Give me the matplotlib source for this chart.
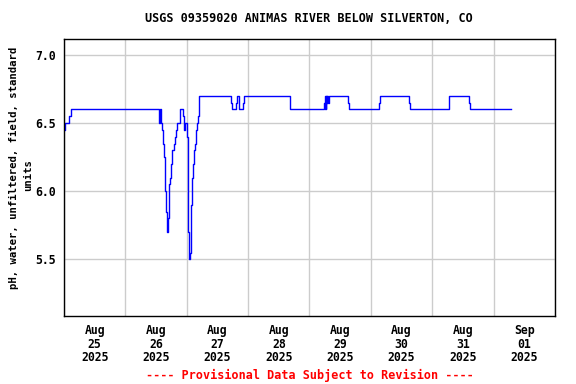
import datetime as dt
import matplotlib
matplotlib.use("Agg")
import matplotlib.pyplot as plt
import matplotlib.dates as mdates

# --- DATA ---
START = dt.datetime(2025, 8, 25, 0, 0)
# hours after START at which the reading changes, and the new reading
HOURS = [0.0, 0.25, 2.1, 2.6,
         37.0, 37.5, 37.8, 38.2, 38.6, 39.0, 39.4, 39.7, 40.1, 40.4, 40.7,
         41.0, 41.6, 41.9, 42.3, 43.1, 43.5, 43.9, 44.4, 45.2, 46.4, 46.8,
         47.3, 48.2, 48.6, 48.9, 49.3, 49.5, 49.9, 50.3, 50.7, 51.1, 51.5,
         51.9, 52.3, 52.7, 52.9,
         65.3, 65.8, 67.4, 67.7, 68.5, 70.0, 70.5,
         88.3,
         101.8, 102.0, 102.2, 102.4, 102.6, 102.8, 103.0, 103.3, 103.5,
         111.0, 111.4,
         123.3, 123.7,
         134.9, 135.3,
         150.6,
         158.5, 158.8,
         174.9]
PH = [6.45, 6.5, 6.55, 6.6,
      6.5, 6.6, 6.5, 6.45, 6.35, 6.25, 6.2, 6.0, 5.85, 5.7, 5.8,
      6.05, 6.1, 6.2, 6.3, 6.35, 6.4, 6.45, 6.5, 6.6, 6.55, 6.45,
      6.5, 6.4, 5.7, 5.5, 5.55, 5.9, 6.1, 6.2, 6.3, 6.35, 6.45,
      6.5, 6.55, 6.65, 6.7,
      6.65, 6.6, 6.65, 6.7, 6.6, 6.65, 6.7,
      6.6,
      6.65, 6.6, 6.7, 6.6, 6.7, 6.65, 6.7, 6.65, 6.7,
      6.65, 6.6,
      6.65, 6.7,
      6.65, 6.6,
      6.7,
      6.65, 6.6,
      6.6]
Y_TICKS = [5.5, 6.0, 6.5, 7.0]

TITLE = "USGS 09359020 ANIMAS RIVER BELOW SILVERTON, CO"
YLABEL_1 = "pH, water, unfiltered, field, standard"
YLABEL_2 = "units"
FOOTER = "---- Provisional Data Subject to Revision ----"

times = [START + dt.timedelta(hours=h) for h in HOURS]

fig = plt.figure(figsize=(5.76, 3.84), dpi=100)
ax = fig.add_axes([0.111, 0.177, 0.8525, 0.7215])

MONO = "DejaVu Sans Mono"
font = dict(family=MONO, weight="bold", size=8.5)

ax.plot(times, PH, color="blue", lw=1.0, drawstyle="steps-post")

ax.set_xlim(START, START + dt.timedelta(days=8))
ax.set_ylim(5.084, 7.117)

# grid lines at midnight, labels centred on noon
ax.xaxis.set_major_locator(mdates.DayLocator())
ax.xaxis.set_major_formatter(plt.NullFormatter())
ax.xaxis.set_minor_locator(mdates.HourLocator(byhour=[12]))
ax.xaxis.set_minor_formatter(mdates.DateFormatter("%b\n%d\n%Y"))
ax.tick_params(axis="x", which="both", length=0, pad=6)
ax.set_yticks(Y_TICKS)
ax.set_yticklabels([f"{v:.1f}" for v in Y_TICKS])
ax.tick_params(axis="y", length=0, pad=6)
for lab in ax.get_xticklabels(minor=True) + ax.get_yticklabels():
    lab.set_fontfamily(MONO)
    lab.set_fontweight("bold")
    lab.set_fontsize(8.3)
    lab.set_linespacing(1.05)

ax.grid(True, which="major", color="#cccccc", lw=1.0)
ax.set_axisbelow(True)
for s in ax.spines.values():
    s.set_linewidth(1.0)
    s.set_color("black")

fig.text(0.537, 0.951, TITLE, ha="center", va="center", **font)
fig.text(0.0235, 0.5625, YLABEL_1, ha="center", va="center", rotation=90,
         family=MONO, weight="bold", size=7.7)
fig.text(0.0485, 0.544, YLABEL_2, ha="center", va="center", rotation=90,
         family=MONO, weight="bold", size=7.7)
fig.text(0.538, 0.023, FOOTER, ha="center", va="center", color="red", **font)

fig.savefig("out.png", dpi=100)
